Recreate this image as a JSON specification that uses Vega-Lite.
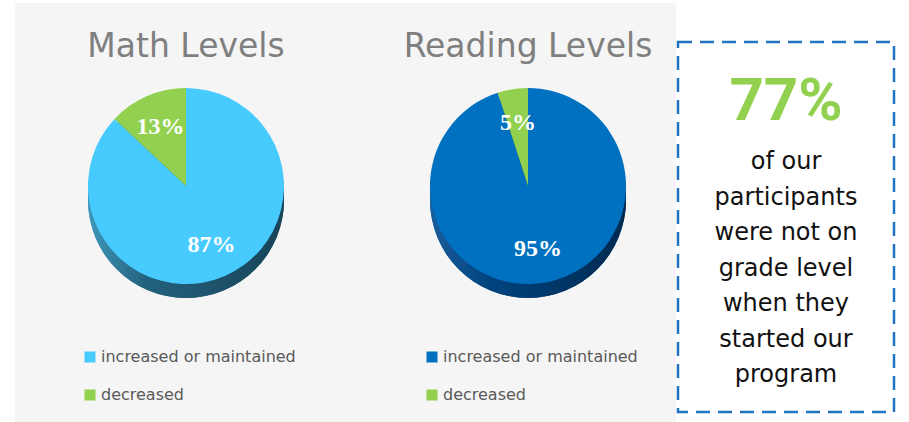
{
  "$schema": "https://vega.github.io/schema/vega-lite/v6.json",
  "background": "white",
  "padding": {"left": 15, "top": 3, "right": 0, "bottom": 0},
  "spacing": 0,
  "config": {
    "font": "DejaVu Sans",
    "view": {"stroke": null},
    "title": {"font": "DejaVu Sans", "fontSize": 33, "fontWeight": "normal", "color": "#7F7F7F", "anchor": "middle", "baseline": "alphabetic", "offset": -61},
    "legend": {"orient": "none", "legendX": 67, "legendY": 346, "title": null, "symbolType": "square", "symbolSize": 121, "symbolStrokeWidth": 0, "labelFont": "DejaVu Sans", "labelFontSize": 16, "labelColor": "#595959", "labelLimit": 400, "rowPadding": 22, "labelOffset": 3, "padding": 0, "direction": "vertical"}
  },
  "resolve": {"scale": {"color": "independent"}, "legend": {"color": "independent"}},
  "hconcat": [
    {
      "width": 342,
      "height": 419,
      "view": {"fill": "#f5f5f5", "stroke": null},
      "title": {"text": "Math Levels"},
      "data": {"values": [
        {"category": "increased or maintained", "pct": 0.87},
        {"category": "decreased", "pct": 0.13}
      ]},
      "layer": [
        {"mark": {"type": "arc", "radius": 98, "yOffset": -12.5, "theta": 0, "theta2": 6.2832, "fill": {"gradient": "linear", "x1": 0, "y1": 0, "x2": 1, "y2": 0, "stops": [{"offset": 0, "color": "#3E97BA"}, {"offset": 0.3, "color": "#23617D"}, {"offset": 1, "color": "#184459"}]}}, "encoding": {}},
        {"mark": {"type": "arc", "radius": 98, "yOffset": -19.5, "theta": 0, "theta2": 6.2832, "fill": {"gradient": "linear", "x1": 0, "y1": 0, "x2": 1, "y2": 0, "stops": [{"offset": 0, "color": "#3E97BA"}, {"offset": 0.3, "color": "#23617D"}, {"offset": 1, "color": "#184459"}]}}, "encoding": {}},
        {
          "mark": {"type": "arc", "radius": 98, "yOffset": -26.5},
          "encoding": {
            "theta": {"field": "pct", "type": "quantitative", "stack": true},
            "order": {"field": "category", "sort": "descending"},
            "color": {"field": "category", "type": "nominal", "scale": {"domain": ["increased or maintained", "decreased"], "range": ["#47CBFF", "#92D050"]}}
          }
        },
        {
          "mark": {"type": "text", "radius": 64, "yOffset": -26.5, "font": "Liberation Serif", "fontWeight": "bold", "fontSize": 24, "fill": "white"},
          "encoding": {
            "theta": {"field": "pct", "type": "quantitative", "stack": true},
            "order": {"field": "category", "sort": "descending"},
            "text": {"field": "pct", "type": "quantitative", "format": ".0%"}
          }
        }
      ]
    },
    {
      "width": 319,
      "height": 419,
      "view": {"fill": "#f5f5f5", "stroke": null},
      "title": {"text": "Reading Levels", "dx": 11.5},
      "data": {"values": [
        {"category": "increased or maintained", "pct": 0.95},
        {"category": "decreased", "pct": 0.05}
      ]},
      "layer": [
        {"mark": {"type": "arc", "radius": 98, "xOffset": 11.5, "yOffset": -12.5, "theta": 0, "theta2": 6.2832, "fill": {"gradient": "linear", "x1": 0, "y1": 0, "x2": 1, "y2": 0, "stops": [{"offset": 0, "color": "#1B5D9C"}, {"offset": 0.3, "color": "#00447E"}, {"offset": 1, "color": "#002A50"}]}}, "encoding": {}},
        {"mark": {"type": "arc", "radius": 98, "xOffset": 11.5, "yOffset": -19.5, "theta": 0, "theta2": 6.2832, "fill": {"gradient": "linear", "x1": 0, "y1": 0, "x2": 1, "y2": 0, "stops": [{"offset": 0, "color": "#1B5D9C"}, {"offset": 0.3, "color": "#00447E"}, {"offset": 1, "color": "#002A50"}]}}, "encoding": {}},
        {
          "mark": {"type": "arc", "radius": 98, "xOffset": 11.5, "yOffset": -26.5},
          "encoding": {
            "theta": {"field": "pct", "type": "quantitative", "stack": true},
            "order": {"field": "category", "sort": "descending"},
            "color": {"field": "category", "type": "nominal", "scale": {"domain": ["increased or maintained", "decreased"], "range": ["#0070C0", "#92D050"]}}
          }
        },
        {
          "mark": {"type": "text", "radius": 64, "xOffset": 11.5, "yOffset": -26.5, "font": "Liberation Serif", "fontWeight": "bold", "fontSize": 24, "fill": "white"},
          "encoding": {
            "theta": {"field": "pct", "type": "quantitative", "stack": true},
            "order": {"field": "category", "sort": "descending"},
            "text": {"field": "pct", "type": "quantitative", "format": ".0%"}
          }
        }
      ]
    },
    {
      "spacing": 0,
      "vconcat": [
        {
          "width": 216,
          "height": 37,
          "view": {"stroke": null, "fill": null},
          "data": {"values": [{"text": ""}]},
          "mark": {"type": "text"},
          "encoding": {"text": {"field": "text"}}
        },
        {
          "width": 216,
          "height": 370,
          "view": {"fill": "white", "stroke": "#1F73C1", "strokeWidth": 2.5, "strokeDash": [14, 8]},
          "layer": [
            {
              "data": {"values": [{"row": 0, "text": "77%"}]},
              "mark": {"type": "text", "font": "Roboto", "fontWeight": "bold", "fontSize": 60, "fill": "#92D050", "baseline": "alphabetic", "yOffset": -13.6},
              "encoding": {
                "y": {"field": "row", "type": "quantitative", "scale": {"domain": [-2.58, 7.84], "reverse": true, "nice": false, "zero": false}, "axis": null},
                "text": {"field": "text"}
              }
            },
            {
              "data": {"values": [
                {"row": 1, "text": "of our"},
                {"row": 2, "text": "participants"},
                {"row": 3, "text": "were not on"},
                {"row": 4, "text": "grade level"},
                {"row": 5, "text": "when they"},
                {"row": 6, "text": "started our"},
                {"row": 7, "text": "program"}
              ]},
              "mark": {"type": "text", "font": "DejaVu Sans", "fontSize": 24, "fill": "#111111", "baseline": "alphabetic"},
              "encoding": {
                "y": {"field": "row", "type": "quantitative", "scale": {"domain": [-2.58, 7.84], "reverse": true, "nice": false, "zero": false}, "axis": null},
                "text": {"field": "text"}
              }
            }
          ]
        }
      ]
    }
  ]
}
